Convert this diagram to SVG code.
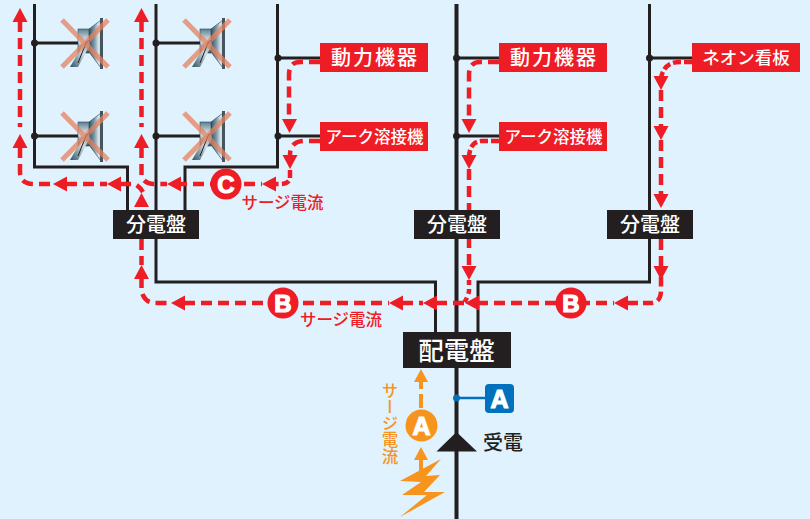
<svg xmlns="http://www.w3.org/2000/svg" xmlns:xlink="http://www.w3.org/1999/xlink" width="810" height="519" viewBox="0 0 810 519">
<style>
.w{fill:none;stroke:#231f20;stroke-width:3}
.main{fill:none;stroke:#231f20;stroke-width:4}
.dot{fill:#231f20}
.r{fill:none;stroke:#ee1c25;stroke-width:4.500;stroke-dasharray:11 6}
.rh{fill:#ee1c25}
.lab{fill:#ee1c25}
.pan{fill:#231f20}
text{font-family:"Noto Sans CJK JP","Noto Sans",sans-serif;text-anchor:middle}
.lt{fill:#fff;font-size:20px;font-weight:500}
.pt{fill:#fff;font-size:20px;font-weight:500}
.st{fill:#ee1c25;font-size:16.500px;font-weight:500}
.bt{fill:#fff;font-family:"Liberation Sans",Arial,sans-serif;font-weight:700;font-size:24px;stroke:#fff;stroke-width:1.200}
</style>
<defs>
<linearGradient id="gc" x1="0" x2="1" y1="0" y2="0"><stop offset="0" stop-color="#2f5566"/><stop offset=".45" stop-color="#7b9aa8"/><stop offset=".85" stop-color="#e6eef1"/><stop offset="1" stop-color="#6d8a98"/></linearGradient>
<linearGradient id="gm" x1="0" x2="0" y1="0" y2="1"><stop offset="0" stop-color="#5c7f90"/><stop offset=".5" stop-color="#e3ecef"/><stop offset="1" stop-color="#2f5060"/></linearGradient>
<linearGradient id="gl" x1="0" x2="1" y1="1" y2="0"><stop offset="0" stop-color="#2f5566"/><stop offset=".6" stop-color="#d2dfe4"/><stop offset="1" stop-color="#6a8796"/></linearGradient>
<g id="spk">
<path d="M89 29L101 20V68L89 52Z" fill="url(#gc)" stroke="#2c4552" stroke-width=".6"/>
<rect x="78" y="29" width="11" height="24" fill="url(#gm)" stroke="#2c4552" stroke-width=".6"/>
<path d="M85 41L70 67H78L90 45Q90 39 85 41Z" fill="url(#gl)"/>
<path d="M78 63L86 43Q88 39 90 41" fill="none" stroke="#231f20" stroke-width="1"/>
<rect x="100" y="18" width="3" height="51" fill="#46565f"/>
<path d="M62 20L108 67M108 20L62 67" stroke="#e5825f" stroke-opacity=".75" stroke-width="5" fill="none"/>
</g>
<path id="au" d="M0 0L7.500 14H-7.500Z"/>
<path id="ad" d="M0 0L7.500 -14H-7.500Z"/>
<path id="al" d="M0 0L14 -7.500V7.500Z"/>
</defs>
<rect width="810" height="519" fill="#dff2fd"/>
<g id="connectors">
<path class="w" d="M34.500 4V167H127.500V211"/>
<path class="w" d="M156 4V282H435.500V333"/>
<path class="w" d="M277.500 4V167H185V211"/>
<path class="main" d="M456.500 4V519"/>
<path class="w" d="M649.500 4V282H478V333"/>
<path class="w" d="M34.500 43H80M34.500 136H80M156 43H202M156 136H202M278 58H320M278 136H320M456.500 58H499M456.500 136H499M649.500 58H692"/>
<path d="M456.500 398H485" fill="none" stroke="#0071bc" stroke-width="2.500"/>
<g class="r">
<path d="M20 21V127"/>
<path d="M20 147V172Q20 184 34 184H53"/>
<path d="M66 184H107"/>
<path d="M120 184H135Q140 187 143 192"/>
<path d="M141.500 21V127"/>
<path d="M141.500 147V176Q144 183 153 184H167"/>
<path d="M180 184H262" stroke-dashoffset="4"/>
<path d="M320 62H300Q289 62 289 75V120"/>
<path d="M320 141H305Q290 141 290 155"/>
<path d="M290 170V178Q289 184 280 184H275" stroke-dasharray="8 3"/>
<path d="M141.500 239V265"/>
<path d="M141.500 277V289Q143 303 156 303H171"/>
<path d="M184 303H389"/>
<path d="M402 303H423"/>
<path d="M436 303H465"/>
<path d="M477 303H614"/>
<path d="M628 303H650Q661 303 661 290V268" stroke-dasharray="10 5"/>
<path d="M661 239V268"/>
<path d="M661 90V128"/>
<path d="M661 140V195"/>
<path d="M692 62H680Q664 62 661 78" stroke-dasharray="8 3"/>
<path d="M499 62H480Q469 62 469 75V120"/>
<path d="M499 141H482Q470 141 469 157" stroke-dasharray="8 3"/>
<path d="M469 169V268"/>
<path d="M469 280V291Q468 297 464 303" stroke-dasharray="5 4"/>
</g>
<g class="rh">
<use href="#au" x="20" y="8"/><use href="#au" x="20" y="134"/>
<use href="#au" x="141.500" y="8"/><use href="#au" x="141.500" y="134"/><use href="#au" x="141.500" y="193"/><use href="#au" x="141.500" y="265"/>
<use href="#al" x="53" y="184"/><use href="#al" x="107" y="184"/><use href="#al" x="167" y="184"/><use href="#al" x="262" y="184"/>
<use href="#ad" x="289.500" y="133"/><use href="#ad" x="290" y="169"/>
<use href="#ad" x="469" y="133"/><use href="#ad" x="469" y="169"/><use href="#ad" x="469" y="280"/>
<use href="#ad" x="661" y="90"/><use href="#ad" x="661" y="140"/><use href="#ad" x="661" y="208"/><use href="#ad" x="661" y="280"/>
<use href="#al" x="171" y="303"/><use href="#al" x="389" y="303"/><use href="#al" x="423" y="303"/><use href="#al" x="465" y="303"/><use href="#al" x="614" y="303"/>
</g>
<g fill="#f7941e" stroke="none">
<path d="M421 369L428 382H414Z"/><path d="M421 447L428 460H414Z"/>
<path d="M419 382H423V389H419ZM419 394H423V408H419ZM419 460H423V472H419Z"/>
</g>
<g class="dot">
<circle cx="34.500" cy="43" r="3.500"/><circle cx="34.500" cy="136" r="3.500"/><circle cx="156" cy="43" r="3.500"/><circle cx="156" cy="136" r="3.500"/><circle cx="278" cy="58" r="3.500"/><circle cx="278" cy="136" r="3.500"/><circle cx="456.500" cy="58" r="3.500"/><circle cx="456.500" cy="136" r="3.500"/><circle cx="649.500" cy="58" r="3.500"/>
</g>
<circle cx="456.500" cy="398" r="3.500" fill="#0071bc"/>
</g>
<g id="speakers">
<use href="#spk" id="speaker-1"/>
<use href="#spk" id="speaker-2" x="122"/>
<use href="#spk" id="speaker-3" y="93"/>
<use href="#spk" id="speaker-4" x="122" y="93"/>
</g>
<g id="panel-1"><rect class="pan" x="113" y="210" width="86" height="29"/><text class="pt" x="156" y="232">分電盤</text></g>
<g id="panel-2"><rect class="pan" x="414" y="210" width="86" height="29"/><text class="pt" x="457" y="232">分電盤</text></g>
<g id="panel-3"><rect class="pan" x="607" y="210" width="86" height="29"/><text class="pt" x="650" y="232">分電盤</text></g>
<g id="main-panel"><rect class="pan" x="403" y="332" width="108" height="36"/><text x="456.500" y="359.500" fill="#fff" font-size="25.500" font-weight="500">配電盤</text></g>
<g id="label-power-1"><rect class="lab" x="320" y="43" width="108" height="29"/><text class="lt" x="375" y="65" letter-spacing="2">動力機器</text></g>
<g id="label-arc-1"><rect class="lab" x="320" y="122" width="108" height="29"/><text class="lt" x="374.500" y="143" style="font-size:16.500px">アーク溶接機</text></g>
<g id="label-power-2"><rect class="lab" x="499" y="43" width="108" height="29"/><text class="lt" x="554" y="65" letter-spacing="2">動力機器</text></g>
<g id="label-arc-2"><rect class="lab" x="499" y="122" width="108" height="29"/><text class="lt" x="553.500" y="143" style="font-size:16.500px">アーク溶接機</text></g>
<g id="label-neon"><rect class="lab" x="692" y="43" width="108" height="29"/><text class="lt" x="746" y="64" style="font-size:17.500px">ネオン看板</text></g>
<g id="badge-c"><circle cx="226" cy="184" r="15.500" fill="#ee1c25"/><text class="bt" x="226" y="193">C</text></g>
<g id="badge-b1"><circle cx="283" cy="303" r="15.500" fill="#ee1c25"/><text class="bt" x="283" y="312">B</text></g>
<g id="badge-b2"><circle cx="571" cy="303" r="15.500" fill="#ee1c25"/><text class="bt" x="571" y="312">B</text></g>
<g id="badge-a-orange"><circle cx="421.500" cy="425.500" r="16" fill="#f7941e"/><text class="bt" x="421.500" y="434.500" style="font-size:25px">A</text></g>
<g id="badge-a-blue"><rect x="485" y="384" width="29" height="29" rx="4" fill="#0071bc"/><text class="bt" x="499.500" y="408" style="font-size:25px">A</text></g>
<g id="receive"><path d="M456.500 432L477 451.500H436.500Z" fill="#231f20"/><text x="503" y="450" font-size="20" font-weight="500" fill="#231f20">受電</text></g>
<path id="lightning" d="M441 459L400 481L421 482L402 495L427 495L400 517L445 492L424 492L440 475L426 476Z" fill="#f7941e"/>
<text class="st" x="282.500" y="209">サージ電流</text>
<text class="st" x="341" y="326">サージ電流</text>
<text x="390" y="382" font-size="16.500" font-weight="500" fill="#f7941e" style="writing-mode:vertical-rl;text-anchor:start">サージ電流</text>
</svg>
